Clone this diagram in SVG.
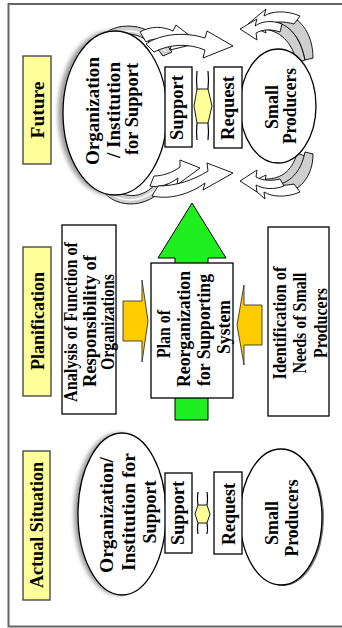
<svg xmlns="http://www.w3.org/2000/svg" width="342" height="628" viewBox="0 0 342 628">
<defs>
<filter id="blur" x="-20%" y="-20%" width="140%" height="140%"><feGaussianBlur stdDeviation="2"/></filter>
<style>
.t{font-family:"Liberation Serif","Times New Roman",serif;font-weight:bold;font-size:18px;fill:#000;text-anchor:middle}
.lbl{fill:#FFFF99;stroke:#555;stroke-width:1.5}
.box{fill:#fff;stroke:#000;stroke-width:1.3}
.ell{fill:#fff;stroke:#000;stroke-width:1.3}
.gray{fill:#cfcfcf;stroke:#000;stroke-width:0.9}
.warr{fill:#fff;stroke:#000;stroke-width:0.9}
.org{fill:#FFCC00;stroke:#333;stroke-width:0.9}
.dbl{fill:#FFFF99;stroke:#000;stroke-width:0.9}
.ln{fill:none;stroke:#000;stroke-width:1.2}
</style>
</defs>
<rect width="342" height="628" fill="#fff"/>
<path d="M345 4 H8.5 V626.5 H345" fill="none" stroke="#666" stroke-width="2"/>

<g id="label-future">
<rect class="lbl" x="23" y="56" width="28" height="108"/>
<text class="t" transform="translate(43.5,110) rotate(-90)" textLength="57" lengthAdjust="spacingAndGlyphs">Future</text>
</g>
<g id="label-planification">
<rect class="lbl" x="23" y="247" width="28" height="149"/>
<text class="t" transform="translate(43.5,321) rotate(-90)" textLength="98" lengthAdjust="spacingAndGlyphs">Planification</text>
</g>
<g id="label-actual">
<rect class="lbl" x="23" y="451" width="27" height="149"/>
<text class="t" transform="translate(43,525) rotate(-90)" textLength="126" lengthAdjust="spacingAndGlyphs">Actual Situation</text>
</g>

<g id="connectors">
<path class="gray" d="M100 38 C112 22 150 18 172 52 L163 56 C146 32 122 28 106 42 Z"/>
<path d="M108 38 C122 27 145 27 166 52" fill="none" stroke="#fff" stroke-width="1.5"/>
<path class="gray" d="M102 190 C116 210 152 210 170 180 L161 177 C146 200 124 200 110 186 Z"/>
<path d="M108 192 C124 204 146 204 165 180" fill="none" stroke="#fff" stroke-width="1.5"/>
<path class="gray" d="M262 20 C284 17 300 34 305 60 L297 63 C292 42 280 30 262 29 Z"/>
<path class="gray" d="M276 13 C300 13 313 34 313 58 L305 60 C301 38 290 24 272 21 Z"/>
<path class="gray" d="M262 187 C284 190 300 176 305 156 L297 153 C292 172 280 180 262 179 Z"/>
<path class="gray" d="M276 194 C300 194 313 176 313 154 L305 152 C301 172 290 184 272 186 Z"/>
<path class="warr" d="M140 32 C150 26 163 26 173 31 L176 25 L199 43 L170 50 L172 43 C162 38 152 38 146 42 Z"/>
<path class="warr" d="M146 44 C162 33 186 32 205 38 L207 31 L233 46 L203 58 L205 50 C188 43 170 44 154 52 Z"/>
<path class="warr" d="M300 16 C286 10 272 11 264 16 L266 9 L248 24 L266 33 L264 26 C272 21 284 21 294 24 Z"/>
<path class="warr" d="M282 24 C272 20 262 21 255 26 L257 19 L240 29 L257 40 L256 33 C263 29 272 29 280 32 Z"/>
<path class="warr" d="M150 186 C160 188 170 184 178 178 L177 185 L200 168 L180 160 L180 167 C172 173 162 176 154 176 Z"/>
<path class="warr" d="M152 196 C170 200 190 194 205 183 L203 190 L233 173 L207 163 L208 171 C194 180 176 186 158 186 Z"/>
<path class="warr" d="M300 192 C286 198 272 197 264 192 L265 199 L248 184 L266 175 L265 182 C272 186 284 186 294 184 Z"/>
<path class="warr" d="M284 186 C274 190 263 189 256 185 L257 192 L240 181 L257 170 L256 177 C263 181 272 181 280 179 Z"/>

<path class="ln" d="M197 71 Q196 80 197 89 M208 71 Q209 80 208 89 M197 123 Q196 132 197 140 M208 123 Q209 132 208 140"/>
<path class="dbl" d="M197 89 H208 L212 106 L208 123 H197 L194 106 Z"/>
<path class="ln" d="M198 492 Q197 499 198 505 M207 492 Q208 499 207 505 M198 523 Q197 529 198 534 M207 523 Q208 529 207 534"/>
<path class="dbl" d="M198 505 H207 L210 514 L207 523 H198 L195 514 Z"/>

<path d="M175 420 V258 H158 L192 203 L226 258 H208 V420 Z" fill="#1FEF1F" stroke="#000" stroke-width="1"/>
<path class="org" d="M123 301 H142 V280 L148 321 L142 362 V341 H123 Z"/>
<path class="org" d="M262 305 H244 V285 L237 325 L244 365 V345 H262 Z"/>
</g>

<g id="future-org">
<ellipse cx="110" cy="113" rx="52" ry="82" fill="#999" filter="url(#blur)"/>
<ellipse class="ell" cx="115" cy="113" rx="52" ry="82"/>
<text class="t" transform="translate(98.5,111) rotate(-90)" textLength="108" lengthAdjust="spacingAndGlyphs">Organization</text>
<text class="t" transform="translate(119.5,110) rotate(-90)" textLength="96" lengthAdjust="spacingAndGlyphs">/ Institution</text>
<text class="t" transform="translate(137.5,109) rotate(-90)" textLength="92" lengthAdjust="spacingAndGlyphs">for Support</text>
</g>
<g id="future-producers">
<ellipse class="ell" cx="278" cy="106" rx="38" ry="57"/>
<text class="t" transform="translate(278,107) rotate(-90)">Small</text>
<text class="t" transform="translate(296,106) rotate(-90)" textLength="76" lengthAdjust="spacingAndGlyphs">Producers</text>
</g>
<g id="future-support">
<rect class="box" x="165" y="67" width="27" height="80"/>
<text class="t" transform="translate(182.5,107.5) rotate(-90)" textLength="65" lengthAdjust="spacingAndGlyphs">Support</text>
</g>
<g id="future-request">
<rect class="box" x="214" y="67" width="28" height="81"/>
<text class="t" transform="translate(234,108) rotate(-90)" textLength="64" lengthAdjust="spacingAndGlyphs">Request</text>
</g>

<g id="analysis">
<rect class="box" x="62" y="225" width="54" height="189"/>
<text class="t" transform="translate(77,322) rotate(-90)" textLength="160" lengthAdjust="spacingAndGlyphs">Analysis of Function of</text>
<text class="t" transform="translate(95.5,321) rotate(-90)" textLength="132" lengthAdjust="spacingAndGlyphs">Responsibility of</text>
<text class="t" transform="translate(114,322) rotate(-90)" textLength="96" lengthAdjust="spacingAndGlyphs">Organizations</text>
</g>
<g id="plan">
<rect class="box" x="151" y="263" width="82" height="135"/>
<text class="t" transform="translate(169.5,334) rotate(-90)" textLength="48" lengthAdjust="spacingAndGlyphs">Plan of</text>
<text class="t" transform="translate(189.5,329) rotate(-90)" textLength="116" lengthAdjust="spacingAndGlyphs">Reorganization</text>
<text class="t" transform="translate(209.5,330) rotate(-90)" textLength="112" lengthAdjust="spacingAndGlyphs">for Supporting</text>
<text class="t" transform="translate(230,327) rotate(-90)" textLength="54" lengthAdjust="spacingAndGlyphs">System</text>
</g>
<g id="identification">
<rect class="box" x="268" y="227" width="61" height="189"/>
<text class="t" transform="translate(285.5,323) rotate(-90)" textLength="113" lengthAdjust="spacingAndGlyphs">Identification of</text>
<text class="t" transform="translate(305.5,323) rotate(-90)" textLength="101" lengthAdjust="spacingAndGlyphs">Needs of Small</text>
<text class="t" transform="translate(327,323) rotate(-90)" textLength="70" lengthAdjust="spacingAndGlyphs">Producers</text>
</g>

<g id="actual-org">
<ellipse cx="118" cy="514" rx="44" ry="81" fill="#999" filter="url(#blur)"/>
<ellipse class="ell" cx="122" cy="514" rx="44" ry="81"/>
<text class="t" transform="translate(112.5,515) rotate(-90)" textLength="116" lengthAdjust="spacingAndGlyphs">Organization/</text>
<text class="t" transform="translate(134.5,512) rotate(-90)" textLength="118" lengthAdjust="spacingAndGlyphs">Institution for</text>
<text class="t" transform="translate(155.5,512) rotate(-90)" textLength="63" lengthAdjust="spacingAndGlyphs">Support</text>
</g>
<g id="actual-producers">
<ellipse cx="283" cy="518" rx="41" ry="68" fill="#777"/>
<ellipse class="ell" cx="281" cy="517" rx="41" ry="68"/>
<text class="t" transform="translate(278,523) rotate(-90)">Small</text>
<text class="t" transform="translate(298,518) rotate(-90)" textLength="77" lengthAdjust="spacingAndGlyphs">Producers</text>
</g>
<g id="actual-support">
<rect class="box" x="165" y="473" width="27" height="80"/>
<text class="t" transform="translate(183.5,513) rotate(-90)" textLength="64" lengthAdjust="spacingAndGlyphs">Support</text>
</g>
<g id="actual-request">
<rect class="box" x="214" y="472" width="28" height="82"/>
<text class="t" transform="translate(234.5,514) rotate(-90)" textLength="62" lengthAdjust="spacingAndGlyphs">Request</text>
</g>
</svg>
